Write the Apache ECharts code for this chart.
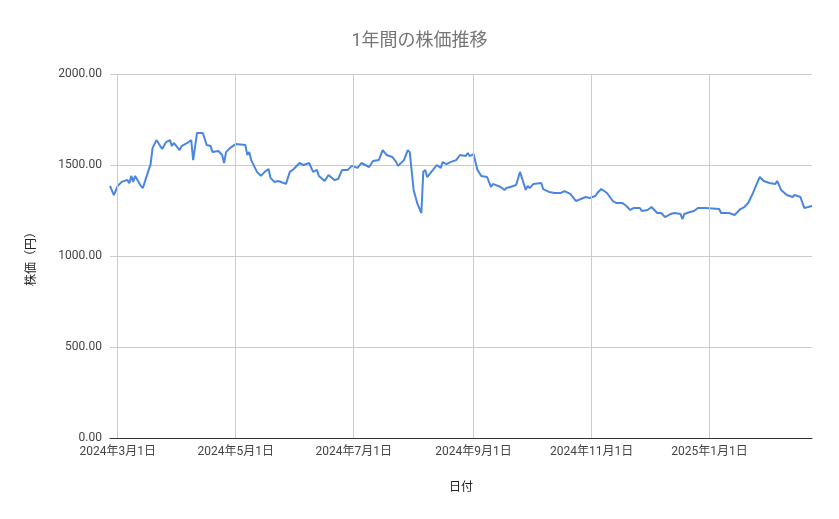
<!DOCTYPE html>
<html>
<head>
<meta charset="utf-8">
<script src="https://cdn.jsdelivr.net/npm/echarts@6/dist/echarts.min.js"></script>
<style>html,body{margin:0;padding:0;background:#fff}#main{width:839px;height:519px}</style>
</head>
<body>
<div id="main"></div>
<script>
// 日付と株価
const dates = [
  '2024-02-26','2024-02-28','2024-03-01','2024-03-03','2024-03-06','2024-03-07','2024-03-08','2024-03-09','2024-03-10','2024-03-13',
  '2024-03-14','2024-03-16','2024-03-18','2024-03-19','2024-03-21','2024-03-23','2024-03-24','2024-03-26','2024-03-28','2024-03-29',
  '2024-03-30','2024-04-02','2024-04-03','2024-04-06','2024-04-08','2024-04-09','2024-04-11','2024-04-14','2024-04-16','2024-04-18',
  '2024-04-19','2024-04-22','2024-04-24','2024-04-25','2024-04-26','2024-04-28','2024-05-01','2024-05-06','2024-05-07','2024-05-08',
  '2024-05-09','2024-05-12','2024-05-14','2024-05-16','2024-05-18','2024-05-19','2024-05-21','2024-05-23','2024-05-24','2024-05-27',
  '2024-05-29','2024-05-31','2024-06-03','2024-06-05','2024-06-08','2024-06-10','2024-06-12','2024-06-13','2024-06-16','2024-06-18',
  '2024-06-21','2024-06-23','2024-06-25','2024-06-28','2024-06-30','2024-07-03','2024-07-05','2024-07-09','2024-07-11','2024-07-14',
  '2024-07-16','2024-07-18','2024-07-21','2024-07-23','2024-07-24','2024-07-27','2024-07-29','2024-07-30','2024-08-01','2024-08-03',
  '2024-08-05','2024-08-06','2024-08-07','2024-08-08','2024-08-11','2024-08-13','2024-08-15','2024-08-16','2024-08-18','2024-08-20',
  '2024-08-23','2024-08-25','2024-08-28','2024-08-29','2024-08-30','2024-09-01','2024-09-03','2024-09-05','2024-09-08','2024-09-10',
  '2024-09-11','2024-09-15','2024-09-17','2024-09-18','2024-09-20','2024-09-23','2024-09-25','2024-09-28','2024-09-29','2024-09-30',
  '2024-10-02','2024-10-03','2024-10-06','2024-10-07','2024-10-08','2024-10-10','2024-10-13','2024-10-16','2024-10-18','2024-10-21',
  '2024-10-24','2024-10-29','2024-10-31','2024-11-03','2024-11-04','2024-11-06','2024-11-09','2024-11-12','2024-11-14','2024-11-17',
  '2024-11-19','2024-11-21','2024-11-23','2024-11-26','2024-11-27','2024-11-30','2024-12-02','2024-12-05','2024-12-07','2024-12-09',
  '2024-12-12','2024-12-14','2024-12-17','2024-12-18','2024-12-19','2024-12-22','2024-12-24','2024-12-26','2024-12-30','2025-01-06',
  '2025-01-07','2025-01-11','2025-01-14','2025-01-17','2025-01-19','2025-01-21','2025-01-23','2025-01-25','2025-01-27','2025-01-29',
  '2025-02-01','2025-02-04','2025-02-05','2025-02-07','2025-02-10','2025-02-13','2025-02-14','2025-02-17','2025-02-19','2025-02-21',
  '2025-02-23'
];
const prices = [
  1385,1335,1385,1407,1418,1400,1440,1407,1440,1385,
  1374,1440,1505,1593,1637,1604,1588,1626,1637,1604,
  1621,1582,1604,1621,1637,1527,1676,1676,1610,1604,
  1571,1577,1555,1511,1571,1593,1615,1610,1555,1571,
  1527,1462,1440,1462,1478,1429,1407,1412,1418,1396,
  1462,1478,1511,1500,1511,1462,1473,1440,1412,1445,
  1418,1423,1473,1473,1495,1484,1511,1489,1522,1527,
  1582,1555,1544,1516,1495,1527,1582,1571,1363,1286,
  1236,1462,1473,1434,1473,1500,1484,1516,1505,1516,
  1527,1555,1549,1566,1549,1560,1473,1440,1434,1379,
  1396,1379,1363,1374,1379,1390,1462,1363,1385,1374,
  1396,1390,1401,1368,1374,1352,1346,1346,1357,1341,
  1302,1324,1319,1330,1346,1368,1346,1302,1291,1291,
  1275,1253,1264,1264,1247,1253,1269,1236,1236,1214,
  1231,1236,1231,1203,1231,1242,1247,1264,1264,1258,
  1236,1236,1225,1258,1269,1291,1335,1385,1434,1412,
  1401,1396,1412,1363,1335,1324,1335,1324,1264,1269,
  1275
];
const monthLines = ['2024-03-01','2024-05-01','2024-07-01','2024-09-01','2024-11-01','2025-01-01'];
const yTicks = [0, 500, 1000, 1500, 2000];

const chart = echarts.init(document.getElementById('main'));
const font = 'Roboto, "Noto Sans CJK JP", sans-serif';
const fmt = (t) => { const d = new Date(t); return d.getFullYear() + '年' + (d.getMonth() + 1) + '月' + d.getDate() + '日'; };
const labelSet = new Set(monthLines.map(s => fmt(s + 'T00:00:00')));

chart.setOption({
  animation: false,
  textStyle: { fontFamily: font },
  title: {
    text: '1年間の株価推移', left: 'center', top: 28,
    textStyle: { fontSize: 18, fontWeight: 'normal', color: '#757575', fontFamily: font }
  },
  grid: { left: 110, right: 27, top: 74, bottom: 81 },
  xAxis: {
    type: 'time',
    min: new Date('2024-02-26T00:00:00').getTime(),
    max: new Date('2025-02-23T00:00:00').getTime(),
    name: '日付', nameLocation: 'middle', nameGap: 44,
    nameTextStyle: { color: '#222', fontSize: 12 },
    axisLine: { lineStyle: { color: '#333' } },
    axisTick: { show: false },
    splitLine: { show: false },
    axisLabel: {
      color: '#444', fontSize: 12, hideOverlap: false,
      formatter: (v) => { const s = fmt(v); return labelSet.has(s) ? s : ''; }
    }
  },
  yAxis: {
    type: 'value', min: yTicks[0], max: yTicks[yTicks.length - 1], interval: 500,
    name: '株価（円）', nameLocation: 'middle', nameGap: 72,
    nameTextStyle: { color: '#222', fontSize: 12 },
    axisLine: { show: false }, axisTick: { show: false },
    axisLabel: { color: '#444', fontSize: 12, formatter: (v) => v.toFixed(2) },
    splitLine: { lineStyle: { color: '#ccc' } }
  },
  series: [{
    type: 'line',
    data: dates.map((d, i) => [d, prices[i]]),
    showSymbol: false,
    lineStyle: { color: '#4a86e0', width: 2 },
    itemStyle: { color: '#4a86e0' },
    markLine: {
      silent: true, symbol: 'none', label: { show: false },
      lineStyle: { color: '#ccc', type: 'solid', width: 1 },
      data: monthLines.map(d => ({ xAxis: d }))
    },
    z: 3
  }]
});
</script>
</body>
</html>
